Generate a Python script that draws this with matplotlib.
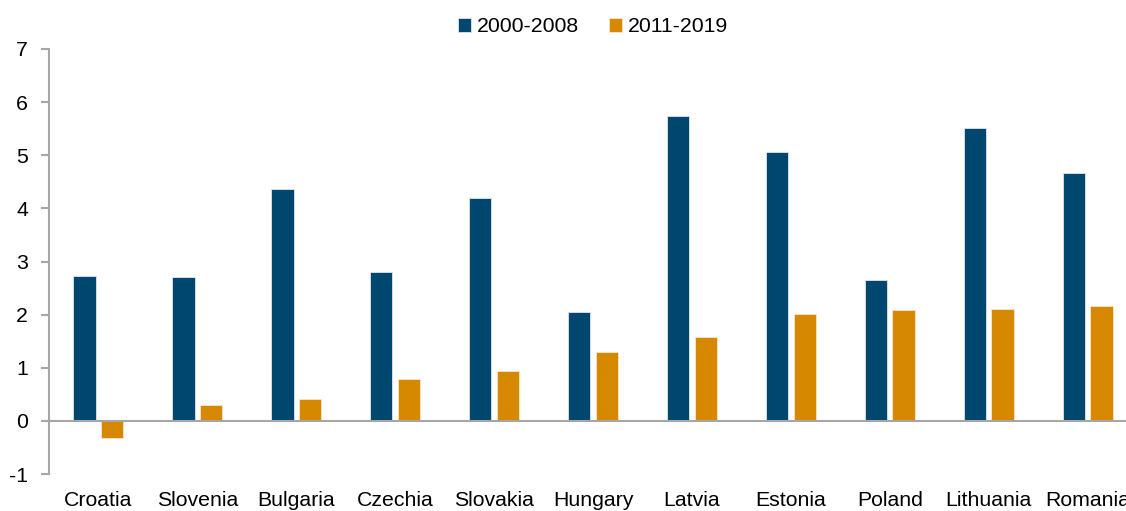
import numpy as np
import matplotlib
matplotlib.use("Agg")
import matplotlib.pyplot as plt

# Data
countries = ["Croatia", "Slovenia", "Bulgaria", "Czechia", "Slovakia", "Hungary",
             "Latvia", "Estonia", "Poland", "Lithuania", "Romania"]
growth_2000_2008 = [2.72, 2.70, 4.36, 2.80, 4.20, 2.05, 5.74, 5.06, 2.65, 5.51, 4.67]
growth_2011_2019 = [-0.33, 0.30, 0.41, 0.79, 0.94, 1.30, 1.58, 2.01, 2.08, 2.11, 2.16]
series_labels = ["2000-2008", "2011-2019"]

BLUE = "#004770"
ORANGE = "#D58800"
GRAY = "#A6A6A6"

plt.rcParams["font.family"] = ["Liberation Sans", "DejaVu Sans"]
plt.rcParams["axes.unicode_minus"] = False

fig = plt.figure(figsize=(11.26, 5.11), dpi=100)
# axes runs past the right edge, the last label is clipped like in the original
ax = fig.add_axes([49 / 1126, 37 / 511, 1088 / 1126, 425 / 511])

x = np.arange(len(countries))
w = 0.225
off = 0.14
ax.bar(x - off, growth_2000_2008, w, color=BLUE, edgecolor="#dfe6ec", linewidth=0.6,
       label=series_labels[0], zorder=2)
ax.bar(x + off, growth_2011_2019, w, color=ORANGE, edgecolor="#f7e6c8", linewidth=0.6,
       label=series_labels[1], zorder=2)

ax.axhline(0, color=GRAY, linewidth=1.5, zorder=3)

ax.set_xlim(-0.5, len(countries) - 0.5)
ax.set_ylim(-1, 7)
ax.set_yticks(range(-1, 8))
ax.set_xticks(x)
ax.set_xticklabels(countries)

for s in ["top", "right", "bottom"]:
    ax.spines[s].set_visible(False)
ax.spines["left"].set_color(GRAY)
ax.spines["left"].set_linewidth(1.5)
ax.tick_params(axis="y", colors=GRAY, length=6, width=1.5, labelcolor="black",
               labelsize=15.3, pad=9)
ax.tick_params(axis="x", length=0, labelsize=15.3, pad=12)

ax.legend(loc="lower center", bbox_to_anchor=(0.5, 1.0), ncol=2, frameon=False,
          fontsize=15.3, handlelength=0.6, handleheight=0.6, handletextpad=0.3,
          columnspacing=1.4, borderaxespad=0.2)

fig.savefig("out.png", dpi=100)
